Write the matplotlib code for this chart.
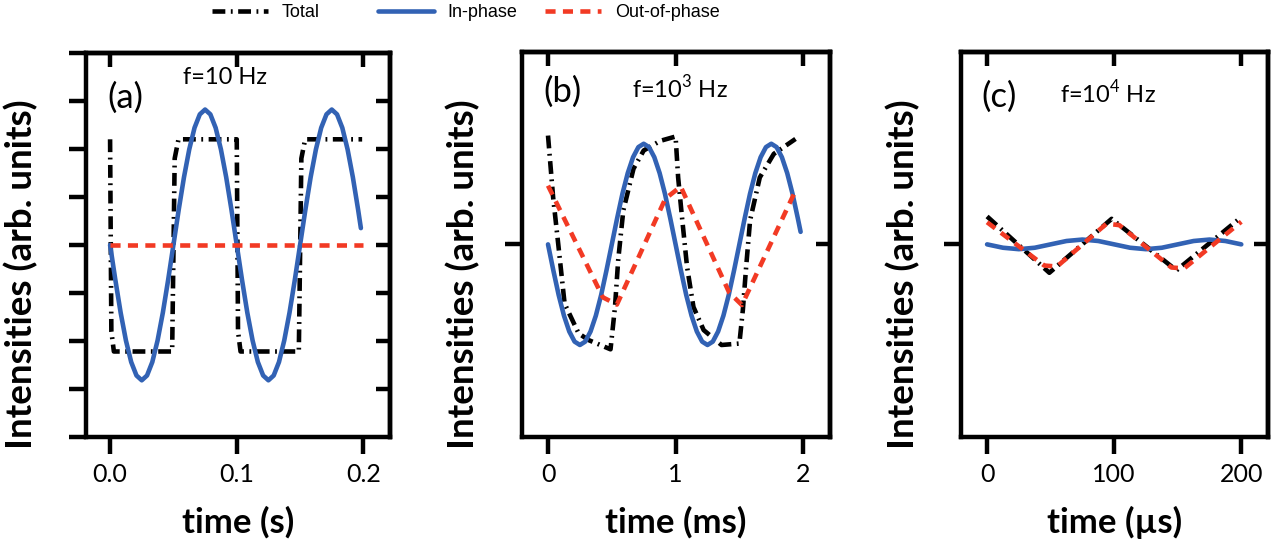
import numpy as np
import matplotlib
matplotlib.use("Agg")
import matplotlib.pyplot as plt

plt.rcParams["font.family"] = ["Lato", "DejaVu Sans"]
plt.rcParams["mathtext.fontset"] = "custom"
plt.rcParams["mathtext.rm"] = "Lato"

# ---- data ----
# (a) f = 10 Hz, time in s
a_blue_t = list(np.linspace(0, 0.2, 49)[:-1]) + [0.198]
a_blue_v = [0, -0.73, -1.41, -1.99, -2.44, -2.72, -2.82, -2.72, -2.44, -1.99, -1.41, -0.73,
            0, 0.73, 1.41, 1.99, 2.44, 2.72, 2.82, 2.72, 2.44, 1.99, 1.41, 0.73,
            0, -0.73, -1.41, -1.99, -2.44, -2.72, -2.82, -2.72, -2.44, -1.99, -1.41, -0.73,
            0, 0.73, 1.41, 1.99, 2.44, 2.72, 2.82, 2.72, 2.44, 1.99, 1.41, 0.73,
            0.35]
a_total_t = [0, 0.001, 0.003, 0.049, 0.051, 0.054, 0.1, 0.101, 0.103, 0.149, 0.151, 0.154, 0.199]
a_total_v = [2.2, -1.8, -2.22, -2.22, 1.8, 2.2, 2.2, -1.8, -2.22, -2.22, 1.8, 2.2, 2.2]
a_out_t = [0, 0.2]
a_out_v = [0, 0]

# (b) f = 10^3 Hz, time in ms
b_blue_t = list(np.linspace(0, 2, 49)[:-1]) + [1.98]
b_blue_v = [0, -0.54, -1.05, -1.48, -1.81, -2.02, -2.09, -2.02, -1.81, -1.48, -1.05, -0.54,
            0, 0.54, 1.05, 1.48, 1.81, 2.02, 2.09, 2.02, 1.81, 1.48, 1.05, 0.54,
            0, -0.54, -1.05, -1.48, -1.81, -2.02, -2.09, -2.02, -1.81, -1.48, -1.05, -0.54,
            0, 0.54, 1.05, 1.48, 1.81, 2.02, 2.09, 2.02, 1.81, 1.48, 1.05, 0.54,
            0.26]
b_total_t = [0, 0.04, 0.08, 0.13, 0.24, 0.32, 0.49, 0.525, 0.55, 0.59, 0.67, 0.75, 0.88, 1.0,
             1.02, 1.05, 1.09, 1.14, 1.22, 1.36, 1.5, 1.527, 1.553, 1.584, 1.66, 1.77, 1.94]
b_total_v = [2.26, 0.98, 0.01, -1.23, -1.85, -1.99, -2.18, -1.3, -0.33, 0.7, 1.57, 1.95, 2.15, 2.24,
             1.39, 0.57, -0.47, -1.3, -1.78, -2.09, -2.06, -1.37, -0.47, 0.5, 1.39, 1.88, 2.19]
b_out_t = [0, 0.43, 0.54, 0.92, 1.04, 1.42, 1.52, 1.93]
b_out_v = [1.22, -1.1, -1.25, 0.95, 1.2, -1.0, -1.26, 1.06]

# (c) f = 10^4 Hz, time in µs
c_blue_t = list(np.linspace(0, 200, 17))
c_blue_v = [0, -0.07, -0.1, -0.07, 0, 0.07, 0.1, 0.07, 0, -0.07, -0.1, -0.07, 0, 0.07, 0.1, 0.07, 0]
c_total_t = [0, 49, 98, 149, 197]
c_total_v = [0.58, -0.59, 0.53, -0.54, 0.5]
c_out_t = [0, 45, 55, 94, 104, 145, 155, 200]
c_out_v = [0.46, -0.44, -0.46, 0.43, 0.4, -0.48, -0.5, 0.47]

legend_labels = ["Total", "In-phase", "Out-of-phase"]

BLUE = "#3262b4"
RED = "#f23a24"
LW = 3.3
TOTAL_LS = (0, (2.8, 1.2, 0.4, 1.2))
OUT_LS = (0, (2.2, 1.6))

fig = plt.figure(figsize=(12.8, 5.51), dpi=100)

panels = [
    dict(rect=[0.0672, 0.207, 0.2375, 0.697], xlim=(-0.019, 0.221), xt=[0, 0.1, 0.2],
         xtl=["0.0", "0.1", "0.2"], yt=[-4, -3, -2, -1, 0, 1, 2, 3, 4], xl="time (s)",
         ylpos=(-0.158, 0.424),
         tag="(a)", tagpos=(0.128, 0.883), freq="f=10 Hz", fpos=(0.457, 0.935),
         data=[(a_total_t, a_total_v), (a_blue_t, a_blue_v), (a_out_t, a_out_v)]),
    dict(rect=[0.4078, 0.207, 0.2406, 0.699], xlim=(-0.204, 2.21), xt=[0, 1, 2],
         xtl=["0", "1", "2"], yt=[0], xl="time (ms)", ylpos=(-0.136, 0.423),
         tag="(b)", tagpos=(0.13, 0.896), freq="f=10$^{3}$ Hz", fpos=(0.513, 0.906),
         data=[(b_total_t, b_total_v), (b_blue_t, b_blue_v), (b_out_t, b_out_v)]),
    dict(rect=[0.7508, 0.207, 0.2398, 0.699], xlim=(-20.5, 221), xt=[0, 100, 200],
         xtl=["0", "100", "200"], yt=[0], xl="time (µs)", ylpos=(-0.134, 0.423),
         tag="(c)", tagpos=(0.124, 0.883), freq="f=10$^{4}$ Hz", fpos=(0.479, 0.894),
         data=[(c_total_t, c_total_v), (c_blue_t, c_blue_v), (c_out_t, c_out_v)]),
]

handles = None
for p in panels:
    ax = fig.add_axes(p["rect"])
    (tt, tv), (bt, bv), (ot, ov) = p["data"]
    h1, = ax.plot(tt, tv, color="black", lw=LW, ls=TOTAL_LS)
    h2, = ax.plot(bt, bv, color=BLUE, lw=LW, solid_capstyle="round")
    h3, = ax.plot(ot, ov, color=RED, lw=LW, ls=OUT_LS)
    handles = [h1, h2, h3]

    ax.set_xlim(*p["xlim"])
    ax.set_ylim(-4, 4)
    ax.set_xticks(p["xt"])
    ax.set_xticklabels(p["xtl"])
    ax.set_yticks(p["yt"])
    ax.set_yticklabels([])
    ax.tick_params(direction="out", length=12, width=3.2, labelsize=18, pad=7)
    for s in ax.spines.values():
        s.set_linewidth(3.2)

    # mirrored ticks pointing inward on top and right
    top = ax.secondary_xaxis("top")
    top.set_xticks(p["xt"])
    top.tick_params(direction="in", length=10, width=3.2, labeltop=False)
    top.spines["top"].set_linewidth(3.2)
    right = ax.secondary_yaxis("right")
    right.set_yticks([y for y in p["yt"] if abs(y) < 4])
    right.tick_params(direction="in", length=10, width=3.2, labelright=False)
    right.spines["right"].set_linewidth(3.2)

    ax.set_xlabel(p["xl"], fontsize=25, fontweight="bold", labelpad=14)
    ax.set_ylabel("Intensities (arb. units)", fontsize=26.5, fontweight="bold")
    ax.yaxis.set_label_coords(*p["ylpos"])

    ax.text(*p["tagpos"], p["tag"], transform=ax.transAxes, fontsize=25,
            ha="center", va="center")
    ax.text(*p["fpos"], p["freq"], transform=ax.transAxes, fontsize=17,
            ha="center", va="center")

# one legend entry per slot, spread along the top like the reference
for h, lab, x0 in zip(handles, legend_labels, [0.166, 0.295, 0.426]):
    fig.legend(handles=[h], labels=[lab], loc="center left", bbox_to_anchor=(x0, 0.977),
               frameon=False, borderpad=0, borderaxespad=0, handlelength=3.1,
               handletextpad=0.75, prop={"family": ["Liberation Sans"], "size": 13})

fig.savefig("out.png", dpi=100)
